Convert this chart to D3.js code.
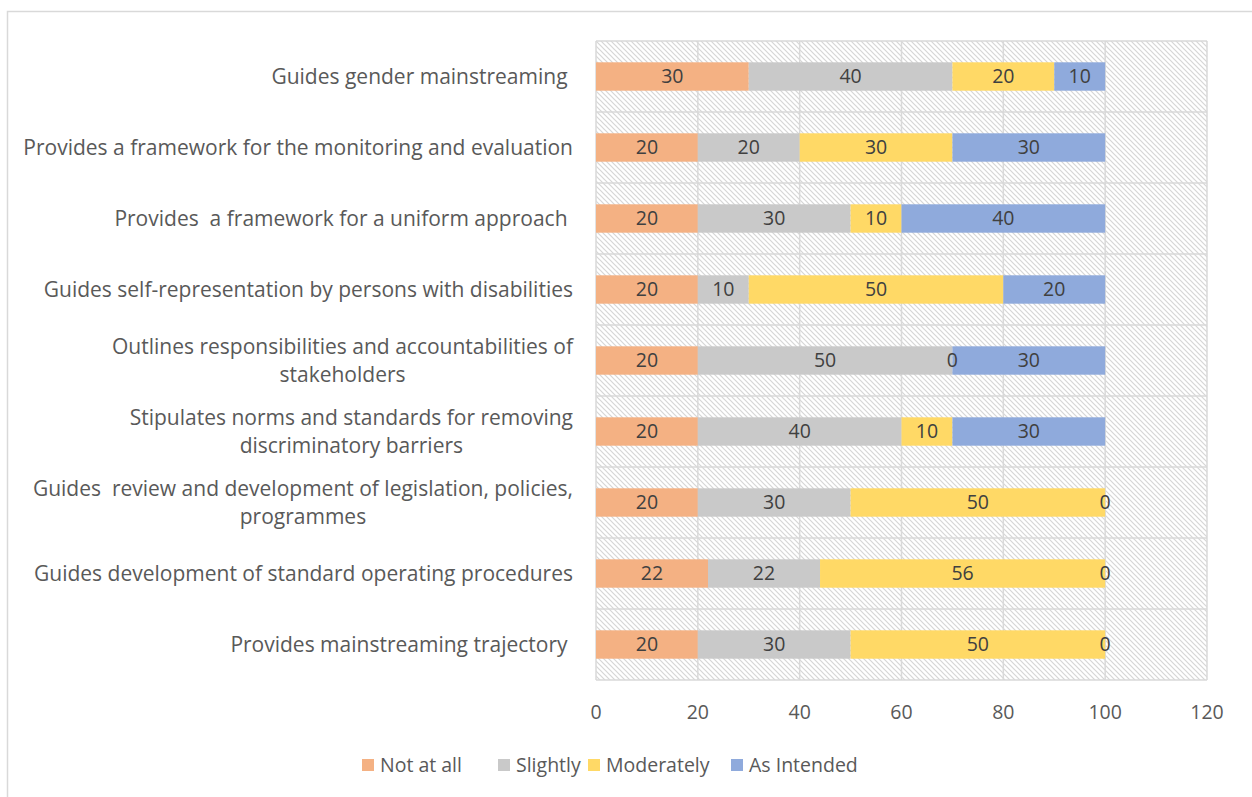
<!DOCTYPE html>
<html>
<head>
<meta charset="utf-8">
<script src="https://cdn.jsdelivr.net/npm/d3@7"></script>
<style>
  html, body { margin: 0; padding: 0; background: #fff; }
  svg { display: block; }
  text { font-family: "Open Sans", Lato, sans-serif; }
</style>
</head>
<body>
<svg id="chart" width="1252" height="797"></svg>
<script>
// Category labels, top to bottom ("\n" marks a wrapped line)
const categories = [
  "Guides gender mainstreaming ",
  "Provides a framework for the monitoring and evaluation",
  "Provides  a framework for a uniform approach ",
  "Guides self-representation by persons with disabilities",
  "Outlines responsibilities and accountabilities of\nstakeholders",
  "Stipulates norms and standards for removing\ndiscriminatory barriers",
  "Guides  review and development of legislation, policies,\nprogrammes",
  "Guides development of standard operating procedures",
  "Provides mainstreaming trajectory "
];

const seriesNames = ["Not at all", "Slightly", "Moderately", "As Intended"];
const seriesColors = ["#F4B183", "#C9C9C9", "#FFD966", "#8FAADC"];

const notAtAll   = [30, 20, 20, 20, 20, 20, 20, 22, 20];
const slightly   = [40, 20, 30, 10, 50, 40, 30, 22, 30];
const moderately = [20, 30, 10, 50,  0, 10, 50, 56, 50];
const asIntended = [10, 30, 40, 20, 30, 30,  0,  0,  0];

const xTicks = [0, 20, 40, 60, 80, 100, 120];

const rows = categories.map((c, i) => ({
  category: c,
  "Not at all": notAtAll[i],
  "Slightly": slightly[i],
  "Moderately": moderately[i],
  "As Intended": asIntended[i]
}));

const svg = d3.select("#chart");
const FS = 19.5;      // data labels, ticks, legend
const FS_CAT = 21;    // category labels

// Outer chart frame
svg.append("rect")
  .attr("x", 7.5).attr("y", 11.5)
  .attr("width", 1300).attr("height", 900)
  .attr("fill", "none").attr("stroke", "#d9d9d9").attr("stroke-width", 1.5);

const plot = { left: 596, top: 41, right: 1207, bottom: 680 };

const x = d3.scaleLinear().domain([0, 120]).range([plot.left, plot.right]);
const y = d3.scaleBand().domain(categories).range([plot.top, plot.bottom])
  .paddingInner(0.6).paddingOuter(0.3);
const yCell = d3.scaleBand().domain(categories).range([plot.top, plot.bottom]);

// Diagonal hatch fill for the plot area
const defs = svg.append("defs");
const pat = defs.append("pattern")
  .attr("id", "hatch").attr("patternUnits", "userSpaceOnUse")
  .attr("width", 5).attr("height", 5);
pat.append("rect").attr("width", 5).attr("height", 5).attr("fill", "#fff");
pat.append("path")
  .attr("d", "M-1,-1 L6,6 M-1,4 L1,6 M4,-1 L6,1")
  .attr("stroke", "#d6d6d6").attr("stroke-width", 1.2);

svg.append("rect")
  .attr("x", plot.left).attr("y", plot.top)
  .attr("width", plot.right - plot.left).attr("height", plot.bottom - plot.top)
  .attr("fill", "url(#hatch)");

// Gridlines
const grid = svg.append("g").attr("stroke", "#d9d9d9").attr("stroke-width", 1.5);
grid.selectAll("line.v").data(xTicks).join("line")
  .attr("x1", d => x(d)).attr("x2", d => x(d))
  .attr("y1", plot.top).attr("y2", plot.bottom);
const bounds = categories.map(c => yCell(c)).concat([plot.bottom]);
grid.selectAll("line.h").data(bounds).join("line")
  .attr("x1", plot.left).attr("x2", plot.right)
  .attr("y1", d => d).attr("y2", d => d);

// Stacked bars
const stack = d3.stack().keys(seriesNames)(rows);
const layers = svg.append("g").selectAll("g").data(stack).join("g")
  .attr("fill", (d, i) => seriesColors[i]);
layers.selectAll("rect").data(d => d).join("rect")
  .attr("x", d => x(d[0]))
  .attr("width", d => x(d[1]) - x(d[0]))
  .attr("y", d => y(d.data.category))
  .attr("height", y.bandwidth());

// Value labels
const labels = svg.append("g");
stack.forEach(layer => {
  labels.selectAll(null).data(layer).join("text")
    .attr("x", d => x((d[0] + d[1]) / 2))
    .attr("y", d => y(d.data.category) + y.bandwidth() / 2 - 1)
    .attr("text-anchor", "middle")
    .attr("dominant-baseline", "central")
    .attr("font-size", FS)
    .attr("fill", "#404040")
    .text(d => d[1] - d[0]);
});

// Category axis labels
const catG = svg.append("g");
categories.forEach(c => {
  const lines = c.split("\n");
  const cy = yCell(c) + yCell.bandwidth() / 2 - 1;
  const lh = 28;
  const t = catG.append("text")
    .attr("font-size", FS_CAT).attr("fill", "#595959")
    .attr("dominant-baseline", "central")
    .attr("xml:space", "preserve")
    .style("white-space", "pre");
  lines.forEach((ln, k) => {
    t.append("tspan")
      .attr("y", cy + (k - (lines.length - 1) / 2) * lh)
      .text(ln);
  });
  // Right-align the block, centre each line inside it
  const widths = [];
  t.selectAll("tspan").each(function () { widths.push(this.getComputedTextLength()); });
  const maxW = d3.max(widths);
  const right = 573;
  t.selectAll("tspan").attr("x", () => right - maxW / 2)
    .attr("text-anchor", "middle");
});

// Value axis tick labels
svg.append("g").selectAll("text").data(xTicks).join("text")
  .attr("x", d => x(d)).attr("y", 711)
  .attr("text-anchor", "middle").attr("dominant-baseline", "central")
  .attr("font-size", FS).attr("fill", "#595959")
  .text(d => d);

// Legend
const legendX = [362, 498, 588, 731];
const leg = svg.append("g");
seriesNames.forEach((s, i) => {
  leg.append("rect")
    .attr("x", legendX[i]).attr("y", 759)
    .attr("width", 12).attr("height", 12)
    .attr("fill", seriesColors[i]);
  leg.append("text")
    .attr("x", legendX[i] + 18).attr("y", 764)
    .attr("dominant-baseline", "central")
    .attr("font-size", FS).attr("fill", "#595959")
    .text(s);
});
</script>
</body>
</html>
